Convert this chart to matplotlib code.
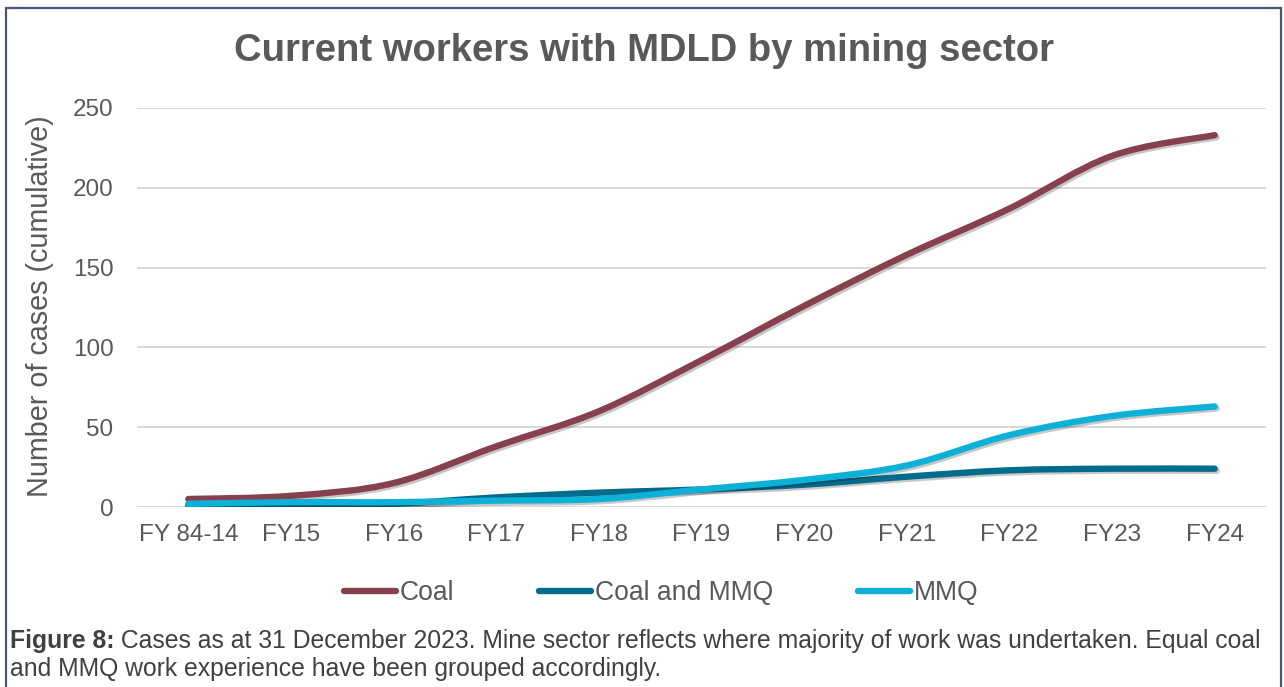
import numpy as np
import matplotlib
matplotlib.use("Agg")
import matplotlib.pyplot as plt
import matplotlib.patheffects as pe
from matplotlib.path import Path
from matplotlib.patches import PathPatch, Rectangle
from matplotlib.lines import Line2D

plt.rcParams['font.family'] = ['Liberation Sans', 'DejaVu Sans']

years = ['FY 84-14', 'FY15', 'FY16', 'FY17', 'FY18', 'FY19',
         'FY20', 'FY21', 'FY22', 'FY23', 'FY24']
coal = [5, 7, 15, 38, 60, 92, 126, 158, 187, 220, 233]
coal_mmq = [1, 1, 2, 6, 9, 11, 14, 19, 23, 24, 24]
mmq = [2, 3, 3, 4, 5, 11, 17, 26, 45, 57, 63]

series = [('Coal', coal, '#86404E'),
          ('Coal and MMQ', coal_mmq, '#036B8C'),
          ('MMQ', mmq, '#0DB1D8')]

grey = '#595959'


def smooth_path(xs, ys):
    # bezier segments through each point (catmull-rom tangents)
    pts = np.column_stack([xs, ys]).astype(float)
    n = len(pts)
    verts = [pts[0]]
    codes = [Path.MOVETO]
    for i in range(n - 1):
        p0 = pts[max(i - 1, 0)]
        p1 = pts[i]
        p2 = pts[i + 1]
        p3 = pts[min(i + 2, n - 1)]
        verts += [p1 + (p2 - p0) / 6, p2 - (p3 - p1) / 6, p2]
        codes += [Path.CURVE4] * 3
    return Path(verts, codes)


fig = plt.figure(figsize=(12.84, 6.87), dpi=100)
ax = fig.add_axes([137 / 1284, 180 / 687, 1129 / 1284, 399 / 687])

x = np.arange(len(years))
shadow = [pe.SimpleLineShadow(offset=(1.5, -1.5), shadow_color='k', alpha=0.22),
          pe.Normal()]
for name, vals, col in series:
    patch = PathPatch(smooth_path(x, vals), fill=False, edgecolor=col,
                      lw=4.6, capstyle='round', joinstyle='round',
                      path_effects=shadow, zorder=3)
    ax.add_patch(patch)

ax.set_xlim(-0.5, len(years) - 0.5)
ax.set_ylim(0, 250)
ax.set_yticks(range(0, 251, 50))
ax.set_xticks(x)
ax.set_xticklabels(years)
ax.grid(axis='y', color='#D9D9D9', lw=1.5)
ax.set_axisbelow(True)
for s in ax.spines.values():
    s.set_visible(False)
ax.tick_params(axis='both', length=0, labelsize=17.5, labelcolor=grey)
ax.tick_params(axis='y', pad=17)
ax.tick_params(axis='x', pad=12)

ax.set_ylabel('Number of cases (cumulative)', fontsize=20.7, color=grey, va='center')
ax.yaxis.set_label_coords(-0.086, 0.503)

fig.text(0.5016, (687 - 51) / 687, 'Current workers with MDLD by mining sector',
         ha='center', va='center', fontsize=27.5, weight='bold', color=grey)

handles = [Line2D([], [], color=c, lw=4.6, solid_capstyle='round') for _, _, c in series]
fig.legend(handles, [n for n, _, _ in series], loc='center',
           bbox_to_anchor=(661 / 1284, (687 - 593) / 687), ncol=3, frameon=False,
           fontsize=19.1, handlelength=1.95, handletextpad=0.15, columnspacing=3.2,
           labelcolor=grey)

cap_color = '#404040'
cap_size = 17.8
t1 = fig.text(10 / 1284, (687 - 648) / 687, 'Figure 8:', weight='bold',
              fontsize=cap_size, color=cap_color, va='baseline')
ax.annotate(' Cases as at 31 December 2023. Mine sector reflects where majority of work '
            'was undertaken. Equal coal', xy=(1, 0), xycoords=t1, va='bottom',
            fontsize=cap_size, color=cap_color, annotation_clip=False)
fig.text(10 / 1284, (687 - 676) / 687,
         'and MMQ work experience have been grouped accordingly.',
         fontsize=cap_size, color=cap_color, va='baseline')

# outer frame
fig.patches.append(Rectangle((6 / 1284, -0.05), 1275 / 1284, (687 - 8) / 687 + 0.05,
                             transform=fig.transFigure, fill=False,
                             edgecolor='#4A5670', lw=1.6))

fig.savefig('out.png', dpi=100)
